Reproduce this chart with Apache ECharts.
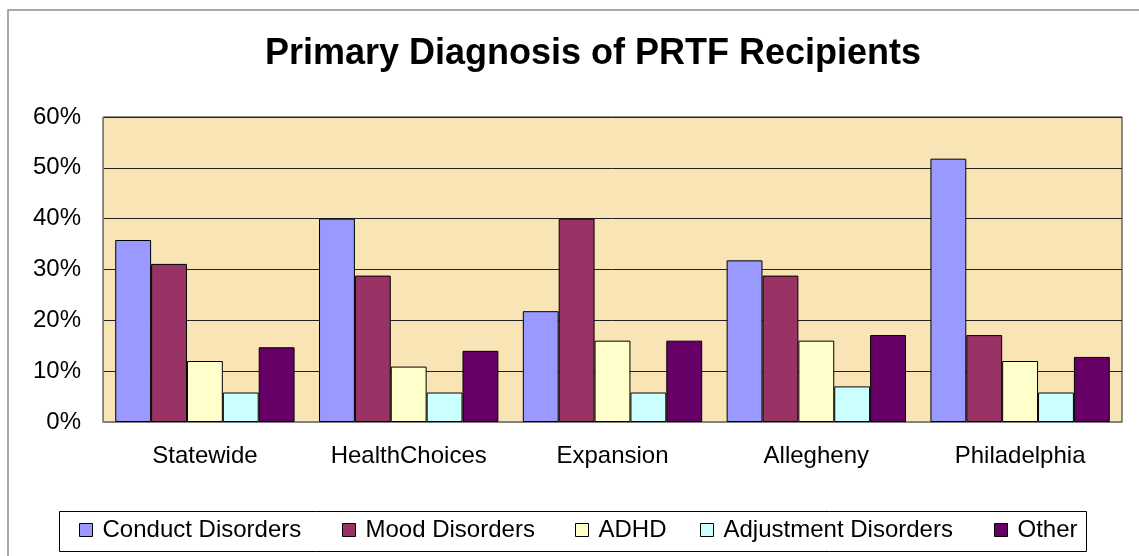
<!DOCTYPE html>
<html>
    <head>
        <meta charset="utf-8">
        <title>chart</title>
        <style>
            html, body { margin: 0; padding: 0; width: 100%; height: 100%; background: #fff; }
            #main { width: 1139px; height: 556px; }
        </style>
    </head>
    <body>
        <div id="main"></div>
        <script src="https://cdn.jsdelivr.net/npm/echarts@6/dist/echarts.min.js"></script>
        <script type="text/javascript">
        var regions = ['Statewide', 'HealthChoices', 'Expansion', 'Allegheny', 'Philadelphia'];
        var seriesNames = ['Conduct Disorders', 'Mood Disorders', 'ADHD', 'Adjustment Disorders', 'Other'];
        var seriesColors = ['#9999FF', '#993366', '#FFFFCC', '#CCFFFF', '#660066'];
        var conduct = [35.8, 40.0, 21.8, 31.8, 51.8];
        var mood = [31.1, 28.8, 40.0, 28.8, 17.1];
        var adhd = [12.0, 10.9, 16.0, 16.0, 12.0];
        var adjustment = [5.8, 5.8, 5.8, 7.0, 5.8];
        var other = [14.7, 14.0, 16.0, 17.1, 12.8];
        var seriesValues = [conduct, mood, adhd, adjustment, other];

        var font = "'Liberation Sans', Arial, sans-serif";
        var legendLeft = [79, 342, 575, 700, 994];

        var myChart = echarts.init(document.getElementById('main'));

        var series = [];
        var legends = [];
        for (var i = 0; i < seriesNames.length; i++) {
            series.push({
                name: seriesNames[i],
                type: 'bar',
                barGap: '0%',
                barCategoryGap: '12%',
                itemStyle: {
                    color: seriesColors[i],
                    borderColor: '#000',
                    borderWidth: 1
                },
                data: seriesValues[i]
            });
            // one legend per item so each sits where the original put it
            legends.push({
                data: [seriesNames[i]],
                left: legendLeft[i],
                top: 518,
                padding: 0,
                icon: 'rect',
                itemWidth: 13,
                itemHeight: 13,
                selectedMode: false,
                itemStyle: { borderColor: '#000', borderWidth: 1 },
                textStyle: {
                    fontFamily: font,
                    fontSize: 24,
                    color: '#000',
                    padding: [0, 0, 0, 5]
                }
            });
        }

        var option = {
            backgroundColor: '#fff',
            animation: false,
            title: {
                text: 'Primary Diagnosis of PRTF Recipients',
                left: 588,
                textAlign: 'center',
                top: 31,
                textStyle: {
                    fontFamily: font,
                    fontSize: 36,
                    fontWeight: 'bold',
                    color: '#000'
                }
            },
            graphic: [{
                type: 'rect',
                shape: { x: 8, y: 10, width: 1200, height: 600 },
                style: { fill: 'none', stroke: '#8c8c8c', lineWidth: 1.5 },
                silent: true,
                z: -1
            }, {
                type: 'rect',
                shape: { x: 59.5, y: 511.5, width: 1027, height: 40 },
                style: { fill: '#fff', stroke: '#000', lineWidth: 1 },
                silent: true,
                z: -1
            }],
            legend: legends,
            grid: {
                left: 103,
                right: 17,
                top: 117,
                bottom: 134,
                show: true,
                backgroundColor: '#F8E4B4',
                borderColor: '#222',
                borderWidth: 1
            },
            xAxis: {
                type: 'category',
                data: regions,
                axisLine: { lineStyle: { color: '#808080', width: 1 } },
                axisTick: { show: false },
                axisLabel: {
                    margin: 22,
                    fontFamily: font,
                    fontSize: 24,
                    color: '#000'
                }
            },
            yAxis: {
                type: 'value',
                min: 0,
                max: 60,
                interval: 10,
                axisLine: { show: true, lineStyle: { color: '#808080', width: 1 } },
                axisTick: { show: false },
                splitLine: { lineStyle: { color: '#222', width: 1 } },
                axisLabel: {
                    margin: 22,
                    fontFamily: font,
                    fontSize: 24,
                    color: '#000',
                    formatter: '{value}%'
                }
            },
            series: series
        };
        myChart.setOption(option);
        </script>
    </body>
</html>
